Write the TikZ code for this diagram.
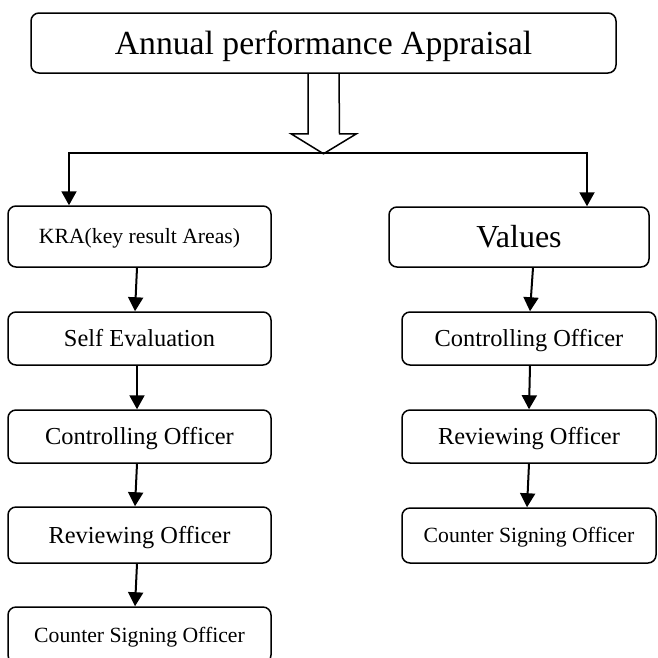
\documentclass[tikz,border=0pt]{standalone}
\usepackage{fontspec}
\setmainfont{Liberation Serif}
\usetikzlibrary{arrows.meta}
\begin{document}
\begin{tikzpicture}[x=1pt,y=-1pt,
  box/.style={draw, line width=1.5pt, rounded corners=8pt, inner sep=0pt,
              text depth=0pt, align=center},
  fbig/.style={font=\fontsize{33.7}{40}\selectfont, text height=22.3pt},
  fval/.style={font=\fontsize{32}{38}\selectfont, text height=21.2pt},
  fmid/.style={font=\fontsize{24.4}{29}\selectfont, text height=16.2pt},
  fsmall/.style={font=\fontsize{21.7}{26}\selectfont, text height=14.4pt},
  arr/.style={line width=2pt, -{Triangle[width=15pt,length=14pt]}},
  hollow/.style={line width=1.5pt, line join=miter}]
\useasboundingbox (0,0) rectangle (658,657);

% heading
\node[box, fbig, minimum width=585pt, minimum height=60pt] (title) at (323.5,43) {Annual performance Appraisal};

% left column
\node[box, fsmall, minimum width=263pt, minimum height=61pt] (kra)    at (139.5,236.5) {KRA(key result Areas)};
\node[box, fmid,   minimum width=263pt, minimum height=53pt] (selfev) at (139.5,338.5) {Self Evaluation};
\node[box, fmid,   minimum width=263pt, minimum height=53pt] (ctrlL)  at (139.5,436.5) {Controlling Officer};
\node[box, fmid,   minimum width=263pt, minimum height=56pt] (revL)   at (139.5,535)   {Reviewing Officer};
\node[box, fsmall, minimum width=263pt, minimum height=56pt] (cntL)   at (139.5,635)   {Counter Signing Officer};

% right column
\node[box, fval,   minimum width=260pt, minimum height=60pt] (values) at (519,237)   {Values};
\node[box, fmid,   minimum width=254pt, minimum height=53pt] (ctrlR)  at (529,338.5) {Controlling Officer};
\node[box, fmid,   minimum width=254pt, minimum height=53pt] (revR)   at (529,436.5) {Reviewing Officer};
\node[box, fsmall, minimum width=254pt, minimum height=55pt] (cntR)   at (529,535.5) {Counter Signing Officer};

% hollow block arrow below the heading
\coordinate (tip) at ([yshift=-80pt]title.south);
\draw[hollow] ([xshift=-15.5pt]title.south) -- ++(0,60) -- ++(-17,0) -- (tip)
  -- ++(33,-20) -- ++(-17,0) -- ([xshift=15.5pt]title.south);

% split into the two branches
\coordinate (splitL) at (69,153);
\coordinate (splitR) at (587,153);
\draw[arr] (splitR) -- (splitL) -- (splitL |- kra.north);
\draw[arr] (splitL) -- (splitR) -- (splitR |- values.north);

% left chain
\draw[arr] ([xshift=-2.5pt]kra.south)    -- ([xshift=-4.5pt]selfev.north);
\draw[arr] ([xshift=-2.5pt]selfev.south) -- ([xshift=-2.5pt]ctrlL.north);
\draw[arr] ([xshift=-2.5pt]ctrlL.south)  -- ([xshift=-4.5pt]revL.north);
\draw[arr] ([xshift=-2.5pt]revL.south)   -- ([xshift=-4.5pt]cntL.north);

% right chain
\draw[arr] ([xshift=14pt]values.south) -- ([xshift=1pt]ctrlR.north);
\draw[arr] ([xshift=1pt]ctrlR.south)   -- ([xshift=0pt]revR.north);
\draw[arr] ([xshift=0pt]revR.south)    -- ([xshift=-2pt]cntR.north);
\end{tikzpicture}
\end{document}
